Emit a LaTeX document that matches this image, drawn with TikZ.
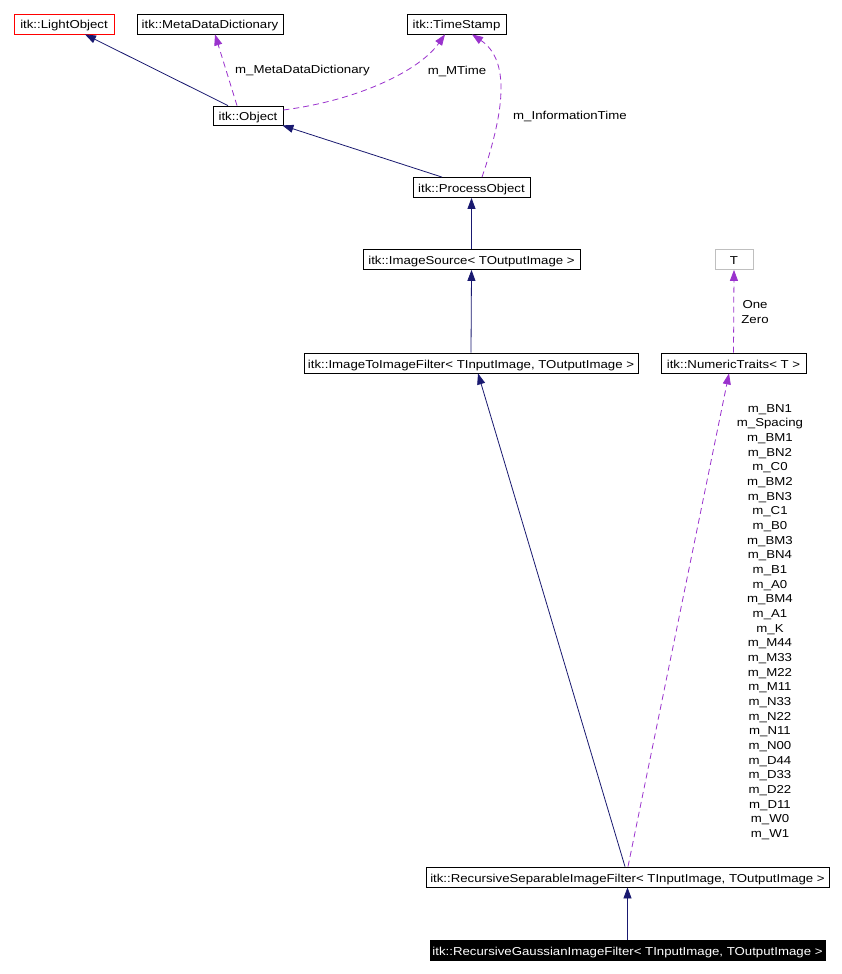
\documentclass[tikz,border=0pt]{standalone}
\usepackage{fontspec}
\setmainfont{Liberation Sans}[FakeStretch=1.15]
\usetikzlibrary{arrows.meta}
\definecolor{navyc}{HTML}{191970}
\definecolor{orchidc}{HTML}{9A32CD}
\definecolor{grayc}{HTML}{BFBFBF}
\begin{document}
\begin{tikzpicture}[x=1pt,y=-1pt,
  font=\fontsize{11.5}{14.66}\selectfont,
  box/.style={draw=black, line width=0.8pt, minimum height=20pt, inner xsep=2pt, inner ysep=0pt, text height=11pt, text depth=1pt, anchor=center},
  inherit/.style={navyc, line width=0.8pt, -{Triangle[length=11pt,width=8pt]}},
  usage/.style={orchidc, line width=0.8pt, dash pattern=on 6pt off 4pt, -{Triangle[length=11pt,width=8pt]}},
  lbl/.style={inner sep=0pt}]
\useasboundingbox (0,0) rectangle (842,974);
\fill[white] (0,0) rectangle (842,974);

\node[box, draw=red, minimum width=100pt] (lo) at (64,24) {itk::LightObject};
\node[box, minimum width=146pt] (mdd) at (210,24) {itk::MetaDataDictionary};
\node[box, minimum width=99pt] (ts) at (456.5,24) {itk::TimeStamp};
\node[box, minimum width=70pt, minimum height=19pt] (obj) at (248,115.5) {itk::Object};
\node[box, minimum width=117pt] (po) at (471.5,187.5) {itk::ProcessObject};
\node[box, minimum width=217pt] (is) at (471.5,259.5) {itk::ImageSource< TOutputImage >};
\node[box, minimum width=334pt] (i2i) at (471,363) {itk::ImageToImageFilter< TInputImage, TOutputImage >};
\node[box, draw=grayc, minimum width=38pt] (T) at (734,259.5) {T};
\node[box, minimum width=145pt] (nt) at (733.5,363) {itk::NumericTraits< T >};
\node[box, minimum width=403pt] (rsf) at (627.5,877) {itk::RecursiveSeparableImageFilter< TInputImage, TOutputImage >};
\node[box, fill=black, text=white, minimum width=395pt] (rgf) at (627.5,950) {itk::RecursiveGaussianImageFilter< TInputImage, TOutputImage >};

% inheritance
\draw[inherit] ([xshift=-20pt]obj.north) -- ([xshift=21pt]lo.south);
\draw[inherit] ([xshift=-29.5pt]po.north) -- ([xshift=-1pt]obj.south east);
\draw[inherit] (is.north) -- (po.south);
\draw[inherit] (i2i.north) -- (is.south);
\draw[inherit] ([xshift=-2.5pt]rsf.north) -- ([xshift=7pt]i2i.south);
\draw[inherit] (rgf.north) -- (rsf.south);

% usage
\draw[usage] ([xshift=-11pt]obj.north) -- ([xshift=5pt]mdd.south);
\draw[usage] ([yshift=5.5pt]obj.east) .. controls (360,100) and (420,70) .. ([xshift=-11.5pt]ts.south);
\draw[usage] ([xshift=10.5pt]po.north) .. controls (505,110) and (510,60) .. ([xshift=15.5pt]ts.south);
\draw[usage] (nt.north) -- (T.south);
\draw[usage] ([xshift=0.5pt]rsf.north) -- ([xshift=-4.5pt]nt.south);

% labels
\node[lbl, anchor=west] (lmdd) at (235,71) {m\_MetaDataDictionary};
\node[lbl] (lmt) at (457,71) {m\_MTime};
\node[lbl, anchor=west] (lit) at (513,116) {m\_InformationTime};
\node[lbl, align=center] (loz) at (755,312) {One\\Zero};
\node[lbl, align=center] (llist) at (770,622) {m\_BN1\\m\_Spacing\\m\_BM1\\m\_BN2\\m\_C0\\m\_BM2\\m\_BN3\\m\_C1\\m\_B0\\m\_BM3\\m\_BN4\\m\_B1\\m\_A0\\m\_BM4\\m\_A1\\m\_K\\m\_M44\\m\_M33\\m\_M22\\m\_M11\\m\_N33\\m\_N22\\m\_N11\\m\_N00\\m\_D44\\m\_D33\\m\_D22\\m\_D11\\m\_W0\\m\_W1};
\end{tikzpicture}
\end{document}
